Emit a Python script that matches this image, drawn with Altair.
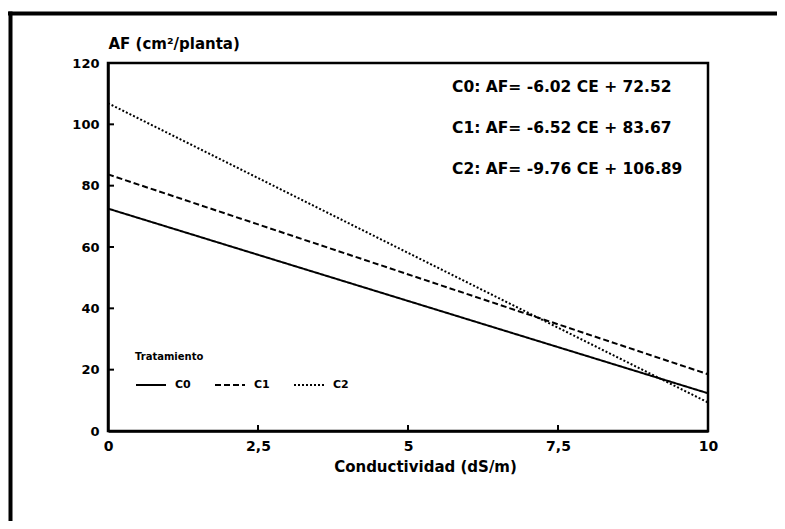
import altair as alt
import pandas as pd

treatments = ["C0", "C1", "C2"]
ce_start = [0, 0, 0]
ce_end = [10, 10, 10]
af_start = [72.52, 83.67, 106.89]
af_end = [12.3, 18.5, 9.3]
equations = [
    "C0: AF= -6.02 CE + 72.52",
    "C1: AF= -6.52 CE + 83.67",
    "C2: AF= -9.76 CE + 106.89",
]
x_ticks = [0, 2.5, 5, 7.5, 10]
y_ticks = [0, 20, 40, 60, 80, 100, 120]

rows = []
for t, x0, x1, y0, y1 in zip(treatments, ce_start, ce_end, af_start, af_end):
    rows.append({"Tratamiento": t, "CE": x0, "AF": y0})
    rows.append({"Tratamiento": t, "CE": x1, "AF": y1})
df = pd.DataFrame(rows)

FONT = "DejaVu Sans"

x_scale = alt.Scale(domain=[0, 10], nice=False)
y_scale = alt.Scale(domain=[0, 120], nice=False)

lines = alt.Chart(df).mark_line(color="black", strokeWidth=2).encode(
    x=alt.X(
        "CE:Q",
        scale=x_scale,
        axis=alt.Axis(
            values=x_ticks,
            title="Conductividad (dS/m)",
            labelExpr="replace(toString(datum.value), '.', ',')",
            grid=False,
            ticks=False,
            labelFlush=False,
            labelPadding=8,
            labelFontSize=14,
            titlePadding=6,
            titleX=317,
        ),
    ),
    y=alt.Y(
        "AF:Q",
        scale=y_scale,
        axis=alt.Axis(
            values=y_ticks,
            title="AF (cm²/planta)",
            titleAngle=0,
            titleAlign="left",
            titleX=0,
            titleY=-12,
            titleBaseline="bottom",
            grid=False,
            ticks=False,
            labelFlush=False,
            labelPadding=9,
        ),
    ),
    strokeDash=alt.StrokeDash(
        "Tratamiento:N",
        scale=alt.Scale(domain=treatments, range=[[1, 0], [6, 3], [2, 2]]),
        legend=alt.Legend(
            orient="none",
            legendX=27,
            legendY=289,
            direction="horizontal",
            title="Tratamiento",
            symbolType="stroke",
            symbolSize=900,
            symbolStrokeWidth=2,
            symbolStrokeColor="black",
            columnPadding=20,
            labelOffset=8,
            titlePadding=7,
            titleFont=FONT,
            titleFontSize=10,
            titleFontWeight="bold",
            titleColor="black",
            labelFont=FONT,
            labelFontSize=11,
            labelFontWeight="bold",
            labelColor="black",
        ),
    ),
)

ytick_df = pd.DataFrame({"v": y_ticks[1:-1]})
xtick_df = pd.DataFrame({"v": x_ticks[1:-1]})

y_tick_marks = alt.Chart(ytick_df).mark_rule(color="black", strokeWidth=2).encode(
    y=alt.Y("v:Q", scale=y_scale), x=alt.value(0), x2=alt.value(6)
)
x_tick_marks = alt.Chart(xtick_df).mark_rule(color="black", strokeWidth=2).encode(
    x=alt.X("v:Q", scale=x_scale), y=alt.value(368), y2=alt.value(362)
)

one = pd.DataFrame({"k": [0]})

eq_text = alt.Chart(one).mark_text(
    font=FONT, fontSize=15.5, fontWeight="bold", color="black",
    align="left", baseline="top", lineHeight=41,
).encode(x=alt.value(344), y=alt.value(17), text=alt.value(equations))

frame_top = alt.Chart(one).mark_rule(color="black", strokeWidth=4).encode(
    x=alt.value(-100), x2=alt.value(669), y=alt.value(-49.5)
)
frame_left = alt.Chart(one).mark_rule(color="black", strokeWidth=4).encode(
    x=alt.value(-97.5), y=alt.value(-51.5), y2=alt.value(458)
)

chart = (
    alt.layer(frame_top, frame_left, y_tick_marks, x_tick_marks, lines, eq_text)
    .properties(
        width=600,
        height=368,
        autosize="none",
        padding={"left": 100, "top": 55, "right": 69, "bottom": 90},
        background="white",
    )
    .configure_view(stroke="black", strokeWidth=2.5)
    .configure_axis(
        domainColor="black",
        domainWidth=2.5,
        labelFont=FONT,
        labelFontWeight="bold",
        labelFontSize=13,
        labelColor="black",
        titleFont=FONT,
        titleFontWeight="bold",
        titleFontSize=15,
        titleColor="black",
    )
)

chart.save("out.html", embed_options={"renderer": "svg", "actions": False})
